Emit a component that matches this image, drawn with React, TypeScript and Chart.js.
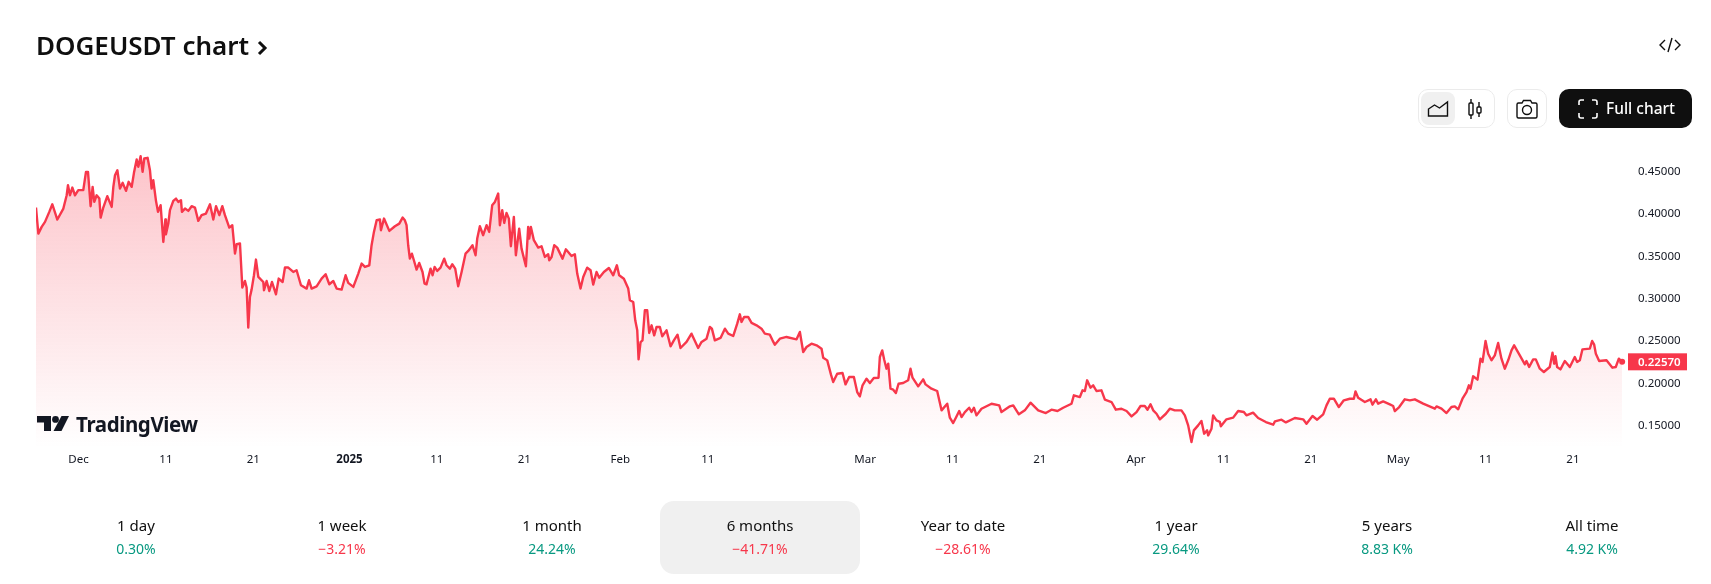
import { useEffect, useRef } from 'react';
import { Chart, registerables } from 'chart.js';

Chart.register(...registerables);

// days counted from 1 Dec 2024
const days = [
  -4.87, -4.6, -4.22, -3.84, -3.35, -3.0, -2.43, -1.74, -1.36, -1.21, -0.98, -0.71, -0.41, -0.03, 0.54, 0.85, 1.08, 1.38, 1.61, 1.8,
  2.07, 2.38, 2.53, 2.83, 3.29, 3.79, 3.98, 4.17, 4.44, 4.74, 5.05, 5.43, 5.73, 6.08, 6.34, 6.65, 6.84, 7.1, 7.33, 7.52,
  7.9, 8.17, 8.36, 8.55, 8.86, 9.09, 9.39, 9.7, 9.93, 10.0, 10.27, 10.46, 10.84, 11.15, 11.41, 11.72, 11.83, 12.18, 12.56, 12.94,
  13.32, 13.7, 14.08, 14.58, 15.04, 15.42, 15.73, 16.11, 16.45, 16.75, 17.25, 17.59, 17.9, 18.09, 18.47, 18.74, 19.04, 19.23, 19.42, 19.61,
  19.8, 20.07, 20.3, 20.57, 21.14, 21.22, 21.52, 21.83, 22.13, 22.59, 22.9, 23.35, 23.62, 24.0, 24.57, 24.95, 25.45, 26.1, 26.37, 26.67,
  27.24, 27.81, 28.27, 28.69, 29.15, 29.53, 30.1, 30.56, 30.86, 31.44, 32.01, 32.39, 32.77, 33.27, 33.53, 33.8, 34.11, 34.49, 34.6, 34.95,
  35.56, 36.2, 36.7, 37.08, 37.34, 37.53, 37.72, 37.91, 38.14, 38.37, 38.68, 38.98, 39.36, 39.59, 39.82, 40.28, 40.51, 40.74, 41.04, 41.42,
  41.84, 42.11, 42.49, 42.76, 43.1, 43.44, 43.83, 44.28, 44.59, 45.08, 45.43, 45.62, 45.92, 46.3, 46.69, 46.99, 47.33, 47.64, 48.02, 48.21,
  48.48, 48.71, 48.97, 49.24, 49.47, 49.81, 50.04, 50.42, 50.69, 51.19, 51.45, 51.57, 51.76, 52.1, 52.6, 52.98, 53.36, 53.74, 53.86, 54.13,
  54.43, 54.77, 55.38, 55.76, 56.41, 56.79, 57.06, 57.44, 57.75, 58.2, 58.59, 58.89, 59.27, 59.58, 60.11, 60.68, 61.18, 61.6, 61.86, 62.4,
  62.9, 63.09, 63.47, 63.7, 63.93, 64.08, 64.31, 64.53, 64.8, 65.07, 65.3, 65.57, 65.87, 66.14, 66.52, 66.79, 67.28, 67.74, 68.12, 68.54,
  68.88, 69.57, 70.14, 70.9, 71.29, 71.86, 72.24, 72.47, 72.81, 73.46, 73.96, 74.34, 74.91, 75.37, 75.67, 75.86, 76.17, 76.62, 77.01, 77.58,
  78.15, 78.53, 79.1, 79.41, 79.67, 80.25, 81.01, 82.16, 82.54, 82.92, 83.3, 83.87, 84.45, 85.02, 85.21, 85.67, 86.09, 86.35, 86.81, 87.42,
  87.76, 88.18, 88.72, 89.1, 89.4, 89.71, 90.17, 90.55, 91.0, 91.54, 91.69, 91.96, 92.19, 92.45, 92.65, 92.91, 93.22, 93.52, 93.83, 94.36,
  94.93, 95.2, 95.43, 96.08, 96.65, 96.92, 97.6, 98.25, 98.75, 99.4, 99.7, 100.08, 100.39, 100.77, 101.04, 101.42, 101.91, 102.18, 102.45, 102.75,
  103.32, 104.47, 105.35, 105.61, 106.57, 106.95, 107.6, 108.28, 108.93, 109.81, 110.68, 111.33, 112.02, 112.67, 113.62, 113.89, 114.58, 114.88, 115.15, 115.41,
  115.8, 116.1, 116.48, 117.05, 117.44, 118.2, 118.69, 119.34, 119.92, 120.49, 121.06, 121.52, 122.01, 122.32, 122.66, 122.97, 123.35, 123.73, 124.42, 124.87,
  125.44, 126.2, 126.59, 126.97, 127.16, 127.35, 127.62, 128.11, 128.49, 128.8, 129.14, 129.26, 129.64, 129.83, 130.21, 130.59, 130.71, 131.35, 132.12, 132.69,
  133.34, 133.64, 134.4, 134.98, 135.86, 136.7, 136.9, 137.65, 138.15, 139.18, 140.13, 140.51, 141.2, 141.73, 142.42, 142.8, 143.18, 143.64, 144.21, 144.78,
  145.47, 145.93, 146.12, 146.42, 147.19, 147.84, 148.06, 148.45, 148.71, 149.28, 150.05, 150.43, 150.62, 151.12, 151.76, 152.34, 152.91, 153.86, 155.2, 155.39,
  155.96, 156.53, 157.1, 157.48, 157.87, 158.36, 158.82, 159.09, 159.28, 159.58, 160.08, 160.42, 160.65, 161, 161.3, 161.68, 162.06, 162.44, 162.82, 163.2,
  163.59, 163.97, 164.27, 164.92, 165.5, 165.68, 165.99, 166.45, 166.75, 167.21, 167.67, 168.35, 168.66, 168.85, 169.0, 169.19, 169.57, 170.07, 170.64, 171.21,
  171.48, 171.79, 172.09, 172.93, 173.2, 173.43, 173.62, 174.0, 174.84, 175.52, 175.9, 176.25, 176.63,
];

const prices = [
  0.4075, 0.3768, 0.3847, 0.3906, 0.4024, 0.4114, 0.3934, 0.4063, 0.422, 0.4338, 0.422, 0.4311, 0.422, 0.428, 0.428, 0.4496, 0.4496, 0.4091, 0.4319, 0.4142,
  0.422, 0.4181, 0.3957, 0.4075, 0.4209, 0.4083, 0.4319, 0.4456, 0.4515, 0.4299, 0.4366, 0.4272, 0.4378, 0.4319, 0.4484, 0.4641, 0.4555, 0.468, 0.4496, 0.4653,
  0.4661, 0.4515, 0.4299, 0.4397, 0.4154, 0.4024, 0.4103, 0.367, 0.3934, 0.3761, 0.3886, 0.4044, 0.4154, 0.4181, 0.4142, 0.4162, 0.4024, 0.4063, 0.4036, 0.4091,
  0.4075, 0.3918, 0.3985, 0.4004, 0.4114, 0.3934, 0.4091, 0.3985, 0.4091, 0.3985, 0.3839, 0.3867, 0.3533, 0.3643, 0.3651, 0.3132, 0.321, 0.3132, 0.266, 0.3022,
  0.3108, 0.3277, 0.3462, 0.3257, 0.3198, 0.31, 0.321, 0.3092, 0.3198, 0.3053, 0.3238, 0.3198, 0.3368, 0.3368, 0.3316, 0.3336, 0.3159, 0.312, 0.3218, 0.312,
  0.3147, 0.3238, 0.3289, 0.3171, 0.321, 0.312, 0.3108, 0.3277, 0.3187, 0.314, 0.3297, 0.3415, 0.3375, 0.3395, 0.3631, 0.3788, 0.3926, 0.3934, 0.3808, 0.3945,
  0.38, 0.3855, 0.3886, 0.3957, 0.3925, 0.3867, 0.3631, 0.3473, 0.3532, 0.3454, 0.3344, 0.3422, 0.3316, 0.3179, 0.3171, 0.3355, 0.3277, 0.3375, 0.3328, 0.3367,
  0.3473, 0.3395, 0.3355, 0.3407, 0.3355, 0.3147, 0.3316, 0.3532, 0.3564, 0.3631, 0.3513, 0.371, 0.3855, 0.3749, 0.3867, 0.3788, 0.4102, 0.4142, 0.424, 0.3867,
  0.4043, 0.3894, 0.4012, 0.3945, 0.3619, 0.3965, 0.3513, 0.3827, 0.3591, 0.3383, 0.3847, 0.371, 0.3847, 0.369, 0.3603, 0.3619, 0.3493, 0.3525, 0.3454, 0.3493,
  0.3631, 0.3603, 0.3473, 0.3583, 0.3505, 0.3525, 0.3297, 0.312, 0.3257, 0.3367, 0.3336, 0.3167, 0.3316, 0.3249, 0.3316, 0.3363, 0.3277, 0.3395, 0.3277, 0.3237,
  0.312, 0.2982, 0.2962, 0.2746, 0.2628, 0.2286, 0.249, 0.251, 0.2864, 0.2864, 0.2597, 0.2687, 0.2569, 0.2668, 0.2668, 0.2558, 0.2628, 0.244, 0.251, 0.2577,
  0.242, 0.2491, 0.2589, 0.242, 0.2491, 0.253, 0.2668, 0.2648, 0.251, 0.2538, 0.2648, 0.2589, 0.2561, 0.2707, 0.2817, 0.2727, 0.2786, 0.2786, 0.2715, 0.2687,
  0.2648, 0.2589, 0.2577, 0.251, 0.2459, 0.253, 0.255, 0.2522, 0.2609, 0.2373, 0.2432, 0.2471, 0.2451, 0.2412, 0.2306, 0.2274, 0.2109, 0.2019, 0.2117, 0.2125,
  0.1991, 0.2078, 0.2078, 0.1901, 0.185, 0.198, 0.2058, 0.2007, 0.2066, 0.207, 0.2314, 0.2392, 0.2282, 0.2176, 0.2235, 0.194, 0.1929, 0.1889, 0.1999, 0.2007,
  0.2039, 0.2176, 0.207, 0.1968, 0.205, 0.1991, 0.194, 0.1913, 0.1685, 0.1763, 0.1598, 0.1535, 0.1598, 0.1677, 0.1606, 0.1665, 0.1716, 0.1665, 0.1716, 0.1626,
  0.1704, 0.1763, 0.1744, 0.1665, 0.1732, 0.1744, 0.1638, 0.1685, 0.1775, 0.1685, 0.1653, 0.1693, 0.1677, 0.1716, 0.1763, 0.1862, 0.1842, 0.1921, 0.1913, 0.2039,
  0.1952, 0.198, 0.1913, 0.1921, 0.1811, 0.1783, 0.1693, 0.1704, 0.1677, 0.1614, 0.1665, 0.1736, 0.1736, 0.1693, 0.1756, 0.1685, 0.1645, 0.1579, 0.1645, 0.1705,
  0.1685, 0.1685, 0.1626, 0.1508, 0.141, 0.1312, 0.1449, 0.1508, 0.1559, 0.141, 0.1449, 0.139, 0.1469, 0.1626, 0.1567, 0.155, 0.1497, 0.1579, 0.1599, 0.1677,
  0.1666, 0.1626, 0.1658, 0.1595, 0.1547, 0.1516, 0.1555, 0.1575, 0.1543, 0.1595, 0.1579, 0.1528, 0.1618, 0.1575, 0.1638, 0.1744, 0.1822, 0.1822, 0.1724, 0.1803,
  0.1822, 0.1822, 0.1909, 0.1834, 0.1783, 0.1815, 0.1752, 0.1815, 0.1764, 0.1791, 0.1756, 0.1736, 0.1677, 0.1724, 0.1815, 0.1803, 0.1815, 0.1764, 0.1705, 0.1732,
  0.1705, 0.1653, 0.1724, 0.1732, 0.1697, 0.1822, 0.1901, 0.198, 0.194, 0.2086, 0.2047, 0.2294, 0.2255, 0.2502, 0.2353, 0.2275, 0.2333, 0.2479, 0.2294, 0.2176,
  0.2275, 0.2392, 0.2451, 0.2333, 0.2227, 0.2267, 0.2196, 0.2286, 0.2286, 0.2176, 0.2137, 0.2196, 0.2365, 0.2235, 0.2322, 0.2196, 0.2168, 0.2267, 0.2196, 0.2314,
  0.2255, 0.2275, 0.2404, 0.2412, 0.2503, 0.2459, 0.2353, 0.2267, 0.2275, 0.2188, 0.2196, 0.2294, 0.2257,
];

const dayTicks = [0, 10, 20, 31, 41, 51, 62, 72, 90, 100, 110, 121, 131, 141, 151, 161, 171];
const dayLabels = ['Dec', '11', '21', '2025', '11', '21', 'Feb', '11', 'Mar', '11', '21', 'Apr', '11', '21', 'May', '11', '21'];
const priceTicks = [0.15, 0.2, 0.25, 0.3, 0.35, 0.4, 0.45];

const periods = ['1 day', '1 week', '1 month', '6 months', 'Year to date', '1 year', '5 years', 'All time'];
const changes = ['0.30%', '−3.21%', '24.24%', '−41.71%', '−28.61%', '29.64%', '8.83 K%', '4.92 K%'];
const tabCenters = [136, 342, 552, 760, 963, 1176, 1387, 1592];

const FONT = '"Noto Sans", sans-serif';
const RED = '#F7374B';
const GREEN = '#089981';

const lastPriceTag = {
  id: 'lastPriceTag',
  afterDraw(chart: any) {
    const { ctx, chartArea, scales } = chart;
    const last = prices[prices.length - 1];
    const y = scales.y.getPixelForValue(last);
    ctx.save();
    ctx.fillStyle = RED;
    ctx.fillRect(chartArea.right, y - 8.5, 59, 17);
    ctx.fillStyle = '#fff';
    ctx.font = `600 11.5px ${FONT}`;
    ctx.textBaseline = 'middle';
    ctx.fillText(last.toFixed(5), chartArea.right + 10, y + 0.5);
    ctx.restore();
  },
};

function IconBox({ x, w, children }: { x: number; w: number; children: any }) {
  return (
    <div style={{ position: 'absolute', left: x, top: 89, width: w, height: 39, border: '1px solid #ebebeb', borderRadius: 10, boxSizing: 'border-box' }}>
      {children}
    </div>
  );
}

export default function App() {
  const canvasRef = useRef<HTMLCanvasElement>(null);

  useEffect(() => {
    if (!canvasRef.current) return;
    const chart = new Chart(canvasRef.current, {
      type: 'line',
      data: {
        datasets: [
          {
            data: days.map((d, i) => ({ x: d, y: prices[i] })),
            borderColor: RED,
            borderWidth: 2.4,
            borderJoinStyle: 'round',
            tension: 0,
            fill: 'start',
            pointBackgroundColor: RED,
            pointBorderWidth: 0,
            pointRadius: (ctx: any) => (ctx.dataIndex === days.length - 1 ? 3 : 0),
            backgroundColor: (ctx: any) => {
              const area = ctx.chart.chartArea;
              if (!area) return 'transparent';
              const g = ctx.chart.ctx.createLinearGradient(0, area.top, 0, area.bottom);
              g.addColorStop(0, 'rgba(247,55,75,0.3)');
              g.addColorStop(1, 'rgba(247,55,75,0)');
              return g;
            },
          },
        ],
      },
      options: {
        responsive: false,
        animation: false,
        layout: { padding: { left: 36, top: 150, right: 0, bottom: 106 } },
        plugins: { legend: { display: false }, tooltip: { enabled: false } },
        scales: {
          x: {
            type: 'linear',
            min: -4.87,
            max: 177.3,
            grid: { display: false, drawTicks: false },
            border: { display: false },
            afterBuildTicks: (scale: any) => {
              scale.ticks = dayTicks.map((value) => ({ value }));
            },
            afterFit: (scale: any) => {
              scale.height = 30;
            },
            ticks: {
              autoSkip: false,
              maxRotation: 0,
              padding: 5,
              color: '#131722',
              font: (ctx: any) => ({ family: FONT, size: 11.5, weight: ctx.tick?.value === 31 ? 'bold' : 'normal' }),
              callback: (value: any) => dayLabels[dayTicks.indexOf(value)],
            },
          },
          y: {
            position: 'right',
            min: 0.12413,
            max: 0.47534,
            grid: { display: false, drawTicks: false },
            border: { display: false },
            afterBuildTicks: (scale: any) => {
              scale.ticks = priceTicks.map((value) => ({ value }));
            },
            afterFit: (scale: any) => {
              scale.width = 83;
            },
            ticks: {
              padding: 10,
              color: '#131722',
              font: { family: FONT, size: 11.5 },
              callback: (value: any) => Number(value).toFixed(5),
            },
          },
        },
      },
      plugins: [lastPriceTag],
    } as any);
    return () => chart.destroy();
  }, []);

  return (
    <div style={{ position: 'absolute', left: 0, top: 0, width: 1711, height: 584, overflow: 'hidden', background: '#fff', fontFamily: FONT, color: '#0f0f0f' }}>
      <canvas ref={canvasRef} width={1711} height={584} style={{ position: 'absolute', left: 0, top: 0 }} />

      <div style={{ position: 'absolute', left: 36, top: 25, fontSize: 26, lineHeight: '40px', fontWeight: 600, whiteSpace: 'nowrap' }}>
        DOGEUSDT chart
      </div>
      <svg style={{ position: 'absolute', left: 256, top: 39 }} width="14" height="18" viewBox="0 0 14 18">
        <path d="M3 3l6 6-6 6" fill="none" stroke="#0f0f0f" strokeWidth="3" />
      </svg>

      <svg style={{ position: 'absolute', left: 1659, top: 35 }} width="22" height="20" viewBox="0 0 22 20" fill="none" stroke="#0f0f0f" strokeWidth="1.4">
        <path d="M6 5l-5 5 5 5M16 5l5 5-5 5M13 3l-4 14" />
      </svg>

      <IconBox x={1418} w={77}>
        <div style={{ position: 'absolute', left: 2, top: 2, width: 34, height: 33, background: '#f0f0f0', borderRadius: 8 }} />
        <svg style={{ position: 'absolute', left: 8, top: 9 }} width="22" height="20" viewBox="0 0 22 20" fill="none" stroke="#0f0f0f" strokeWidth="1.4">
          <path d="M1.5 17V10l6-4 5 3 8-6v14z" />
        </svg>
        <svg style={{ position: 'absolute', left: 47, top: 8 }} width="18" height="22" viewBox="0 0 18 22" fill="none" stroke="#0f0f0f" strokeWidth="1.4">
          <path d="M5 1v4M5 17v4M13 4v5M13 15v4" />
          <rect x="3" y="5" width="4" height="12" rx="1" />
          <rect x="11" y="9" width="4" height="6" rx="1" />
        </svg>
      </IconBox>
      <IconBox x={1507} w={40}>
        <svg style={{ position: 'absolute', left: 7, top: 7 }} width="24" height="24" viewBox="0 0 24 24" fill="none" stroke="#0f0f0f" strokeWidth="1.4">
          <path d="M2 7.5a1.5 1.5 0 0 1 1.5-1.5H7l1.5-2.5h7L17 6h3.5A1.5 1.5 0 0 1 22 7.5v12a1.5 1.5 0 0 1-1.5 1.5h-17A1.5 1.5 0 0 1 2 19.5z" />
          <circle cx="12" cy="13" r="4.5" />
        </svg>
      </IconBox>

      <div style={{ position: 'absolute', left: 1559, top: 89, width: 133, height: 39, background: '#0f0f0f', borderRadius: 10, color: '#fff' }}>
        <svg style={{ position: 'absolute', left: 19, top: 10 }} width="20" height="20" viewBox="0 0 20 20" fill="none" stroke="#fff" strokeWidth="1.6">
          <path d="M1 6V3a2 2 0 0 1 2-2h3M14 1h3a2 2 0 0 1 2 2v3M19 14v3a2 2 0 0 1-2 2h-3M6 19H3a2 2 0 0 1-2-2v-3" />
        </svg>
        <div style={{ position: 'absolute', left: 47, top: 0, lineHeight: '38px', fontSize: 15.5, fontWeight: 500, whiteSpace: 'nowrap' }}>Full chart</div>
      </div>

      <svg style={{ position: 'absolute', left: 37, top: 416 }} width="32" height="16" viewBox="0 0 32 16" fill="#131722">
        <path d="M0 0h14v15H7V6.5H0z" />
        <circle cx="18.5" cy="3.4" r="3.4" />
        <path d="M24.5 0H32l-7.5 15H16.5z" />
      </svg>
      <div style={{ position: 'absolute', left: 76, top: 410, fontSize: 20.5, lineHeight: '28px', fontWeight: 700, color: '#131722', letterSpacing: -0.4, whiteSpace: 'nowrap' }}>
        TradingView
      </div>

      <div style={{ position: 'absolute', left: 660, top: 501, width: 200, height: 73, background: '#f0f0f0', borderRadius: 14 }} />
      {periods.map((p, i) => (
        <div key={p} style={{ position: 'absolute', left: tabCenters[i] - 90, width: 180, top: 513, textAlign: 'center', whiteSpace: 'nowrap' }}>
          <div style={{ fontSize: 15, lineHeight: '24px' }}>{p}</div>
          <div style={{ fontSize: 14, lineHeight: '24px', color: changes[i].startsWith('−') ? RED : GREEN }}>{changes[i]}</div>
        </div>
      ))}
    </div>
  );
}
